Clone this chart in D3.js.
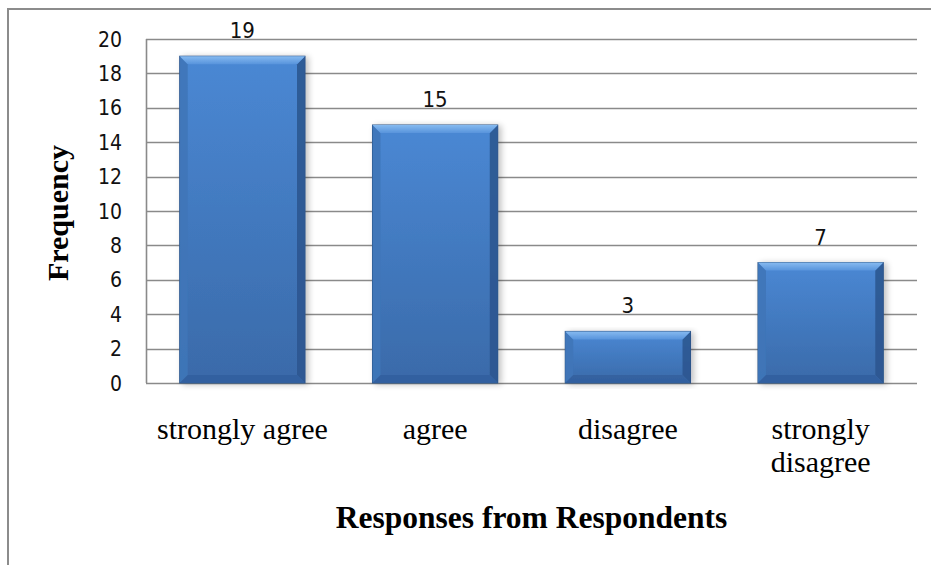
<!DOCTYPE html>
<html>
<head>
<meta charset="utf-8">
<script src="https://cdn.jsdelivr.net/npm/d3@7"></script>
<style>
  body { margin: 0; background: #fff; }
  svg { display: block; }
  .tick-label, .value-label { font-family: "DejaVu Sans Condensed", "DejaVu Sans", sans-serif; font-size: 21px; fill: #111; }
  .value-label { font-size: 22px; }
  .cat-label { font-family: "Liberation Serif", "Times New Roman", serif; font-size: 30px; fill: #000; }
  .axis-title { font-family: "Liberation Serif", "Times New Roman", serif; font-size: 30px; font-weight: bold; fill: #000; }
</style>
</head>
<body>
<svg id="chart"></svg>
<script>
const categories = ["strongly agree", "agree", "disagree", "strongly disagree"];
const categoryLines = [["strongly agree"], ["agree"], ["disagree"], ["strongly", "disagree"]];
const frequency = [19, 15, 3, 7];
const yTicks = [0, 2, 4, 6, 8, 10, 12, 14, 16, 18, 20];
const xTitle = "Responses from Respondents";
const yTitle = "Frequency";

const width = 931, height = 565;
const plot = { left: 146, right: 917, top: 39, bottom: 383 };

const svg = d3.select("#chart").attr("width", width).attr("height", height);

const defs = svg.append("defs");
const bodyGrad = defs.append("linearGradient").attr("id", "barBody")
  .attr("x1", 0).attr("y1", 0).attr("x2", 0).attr("y2", 1);
bodyGrad.append("stop").attr("offset", "0%").attr("stop-color", "#4a88d4");
bodyGrad.append("stop").attr("offset", "100%").attr("stop-color", "#3a6aa9");

const topGrad = defs.append("linearGradient").attr("id", "barTop")
  .attr("x1", 0).attr("y1", 0).attr("x2", 0).attr("y2", 1);
topGrad.append("stop").attr("offset", "0%").attr("stop-color", "#86baf0");
topGrad.append("stop").attr("offset", "100%").attr("stop-color", "#5894dc");

const shadow = defs.append("filter").attr("id", "shadow")
  .attr("x", "-10%").attr("y", "-10%").attr("width", "130%").attr("height", "120%");
shadow.append("feGaussianBlur").attr("in", "SourceAlpha").attr("stdDeviation", 3);
shadow.append("feOffset").attr("dx", 3).attr("dy", 1).attr("result", "off");
shadow.append("feComponentTransfer").append("feFuncA").attr("type", "linear").attr("slope", 0.25);
const merge = shadow.append("feMerge");
merge.append("feMergeNode");
merge.append("feMergeNode").attr("in", "SourceGraphic");

// outer chart frame (cut at right and bottom)
svg.append("path")
  .attr("d", `M8,${height} V9 H${width}`)
  .attr("fill", "none")
  .attr("stroke", "#8c8c8c")
  .attr("stroke-width", 2);

const x = d3.scaleBand()
  .domain(categories)
  .range([plot.left, plot.right])
  .paddingInner(0.35)
  .paddingOuter(0.175);

const y = d3.scaleLinear()
  .domain([0, 20])
  .range([plot.bottom, plot.top]);

// gridlines
svg.append("g")
  .selectAll("line")
  .data(yTicks)
  .enter()
  .append("line")
  .attr("x1", plot.left)
  .attr("x2", plot.right)
  .attr("y1", (d) => Math.round(y(d)) + 0.5)
  .attr("y2", (d) => Math.round(y(d)) + 0.5)
  .attr("stroke", "#8a8a8a")
  .attr("stroke-width", 1.6);

// left axis line
svg.append("line")
  .attr("x1", plot.left + 0.5).attr("x2", plot.left + 0.5)
  .attr("y1", y(20)).attr("y2", y(0))
  .attr("stroke", "#8a8a8a")
  .attr("stroke-width", 1.6);

// tick labels
svg.append("g")
  .selectAll("text")
  .data(yTicks)
  .enter()
  .append("text")
  .attr("class", "tick-label")
  .attr("x", plot.left - 24)
  .attr("y", (d) => y(d))
  .attr("dy", "0.36em")
  .attr("text-anchor", "end")
  .text((d) => d);

// bars with bevel
const bev = 8;
const bars = svg.append("g")
  .selectAll("g")
  .data(frequency)
  .enter()
  .append("g")
  .attr("filter", "url(#shadow)");

bars.append("rect")
  .attr("x", (d, i) => x(categories[i]))
  .attr("y", (d) => y(d))
  .attr("width", x.bandwidth())
  .attr("height", (d) => y(0) - y(d))
  .attr("fill", "url(#barBody)")
  .attr("stroke", "#2b5283")
  .attr("stroke-width", 1);

function bevelPoly(side) {
  return function (d, i) {
    const x0 = x(categories[i]), x1 = x0 + x.bandwidth();
    const y0 = y(d), y1 = y(0);
    if (side === "top") return [[x0, y0], [x1, y0], [x1 - bev, y0 + bev], [x0 + bev, y0 + bev]].join(" ");
    if (side === "left") return [[x0, y0], [x0 + bev, y0 + bev], [x0 + bev, y1 - bev], [x0, y1]].join(" ");
    if (side === "right") return [[x1, y0], [x1, y1], [x1 - bev, y1 - bev], [x1 - bev, y0 + bev]].join(" ");
    return [[x0, y1], [x0 + bev, y1 - bev], [x1 - bev, y1 - bev], [x1, y1]].join(" ");
  };
}

bars.append("polygon").attr("points", bevelPoly("left")).attr("fill", "#3f75b8").attr("opacity", 0.9);
bars.append("polygon").attr("points", bevelPoly("right")).attr("fill", "#2c5690").attr("opacity", 0.9);
bars.append("polygon").attr("points", bevelPoly("bottom")).attr("fill", "#33619e").attr("opacity", 0.9);
bars.append("polygon").attr("points", bevelPoly("top")).attr("fill", "url(#barTop)");

// value labels
svg.append("g")
  .selectAll("text")
  .data(frequency)
  .enter()
  .append("text")
  .attr("class", "value-label")
  .attr("x", (d, i) => x(categories[i]) + x.bandwidth() / 2)
  .attr("y", (d) => y(d) - 18)
  .attr("text-anchor", "middle")
  .text((d) => d);

// category labels
const cat = svg.append("g")
  .selectAll("text")
  .data(categoryLines)
  .enter()
  .append("text")
  .attr("class", "cat-label")
  .attr("text-anchor", "middle")
  .attr("x", (d, i) => x(categories[i]) + x.bandwidth() / 2)
  .attr("y", 439);

cat.selectAll("tspan")
  .data((d) => d)
  .enter()
  .append("tspan")
  .attr("x", function () { return d3.select(this.parentNode).attr("x"); })
  .attr("dy", (d, i) => (i === 0 ? 0 : 33))
  .text((d) => d);

// axis titles
svg.append("text")
  .attr("class", "axis-title")
  .attr("x", (plot.left + plot.right) / 2)
  .attr("y", 528)
  .attr("text-anchor", "middle")
  .style("font-size", "31.5px")
  .text(xTitle);

svg.append("text")
  .attr("class", "axis-title")
  .attr("transform", `translate(68,${(plot.top + plot.bottom) / 2 + 2}) rotate(-90)`)
  .attr("text-anchor", "middle")
  .text(yTitle);
</script>
</body>
</html>
